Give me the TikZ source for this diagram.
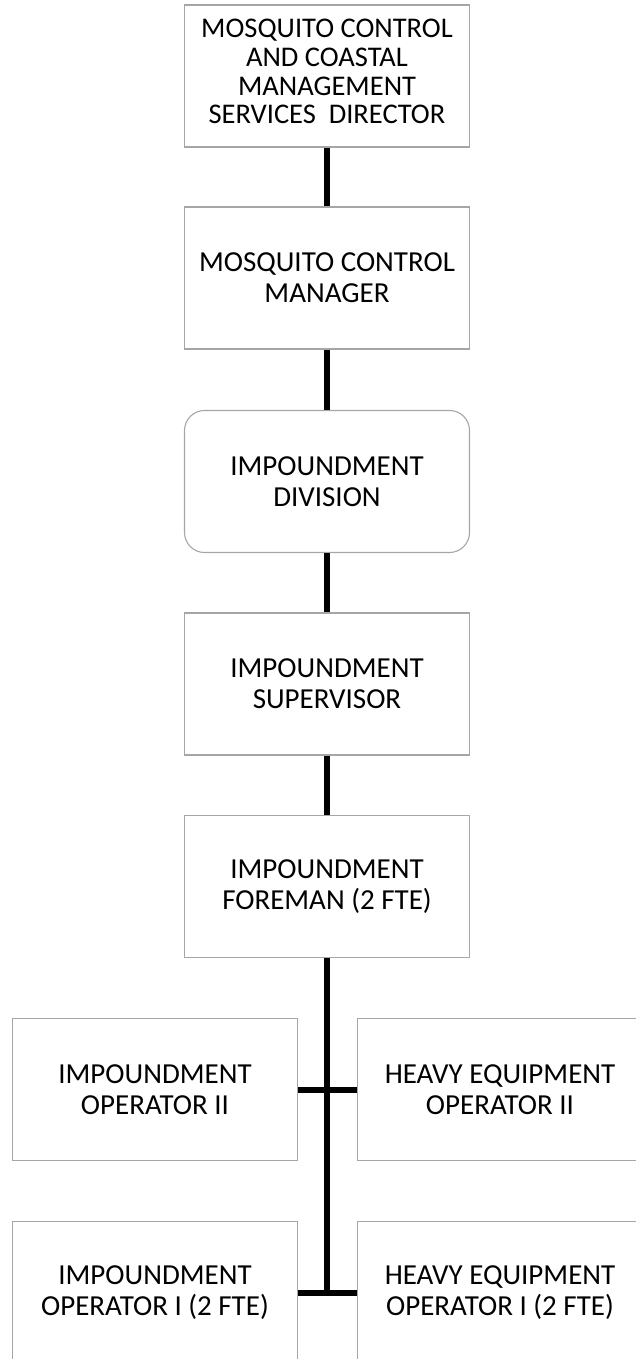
\documentclass[tikz,border=0pt]{standalone}
\usepackage{fontspec}
\setmainfont{Carlito}
\usetikzlibrary{calc}

\tikzset{
  post/.style={draw=black!35,line width=1.1pt,fill=white,minimum width=285pt,
    minimum height=142pt,align=center,font=\fontsize{29}{31}\selectfont,inner sep=2pt},
  unit/.style={post,rounded corners=20pt},
  link/.style={line width=6pt,black}
}

\begin{document}
\begin{tikzpicture}[x=1pt,y=-1pt]
   \useasboundingbox (0,0) rectangle (635,1359);

   \node[post,font=\fontsize{28.5}{28.7}\selectfont,text depth=9pt] (dir) at (327,76) {MOSQUITO CONTROL\\AND COASTAL\\MANAGEMENT\\SERVICES~~DIRECTOR};
   \node[post] (mgr)  at (327,278)   {MOSQUITO CONTROL\\MANAGER};
   \node[unit] (div)  at (327,481.5) {IMPOUNDMENT\\DIVISION};
   \node[post] (sup)  at (327,684)   {IMPOUNDMENT\\SUPERVISOR};
   \node[post] (fore) at (327,886.5) {IMPOUNDMENT\\FOREMAN (2 FTE)};

   \node[post] (opii)  at (155,1089.5) {IMPOUNDMENT\\OPERATOR II};
   \node[post] (heqii) at (500,1089.5) {HEAVY EQUIPMENT\\OPERATOR II};
   \node[post] (opi)   at (155,1292.5) {IMPOUNDMENT\\OPERATOR I (2 FTE)};
   \node[post] (heqi)  at (500,1292.5) {HEAVY EQUIPMENT\\OPERATOR I (2 FTE)};

   \draw[link] (dir) -- (mgr);
   \draw[link] (mgr) -- (div);
   \draw[link] (div) -- (sup);
   \draw[link] (sup) -- (fore);
   \draw[link] (fore.south) -- (fore.south |- opi.east);
   \draw[link] (opii.east) -- (heqii.west);
   \draw[link] (opi.east) -- (heqi.west);
\end{tikzpicture}
\end{document}
